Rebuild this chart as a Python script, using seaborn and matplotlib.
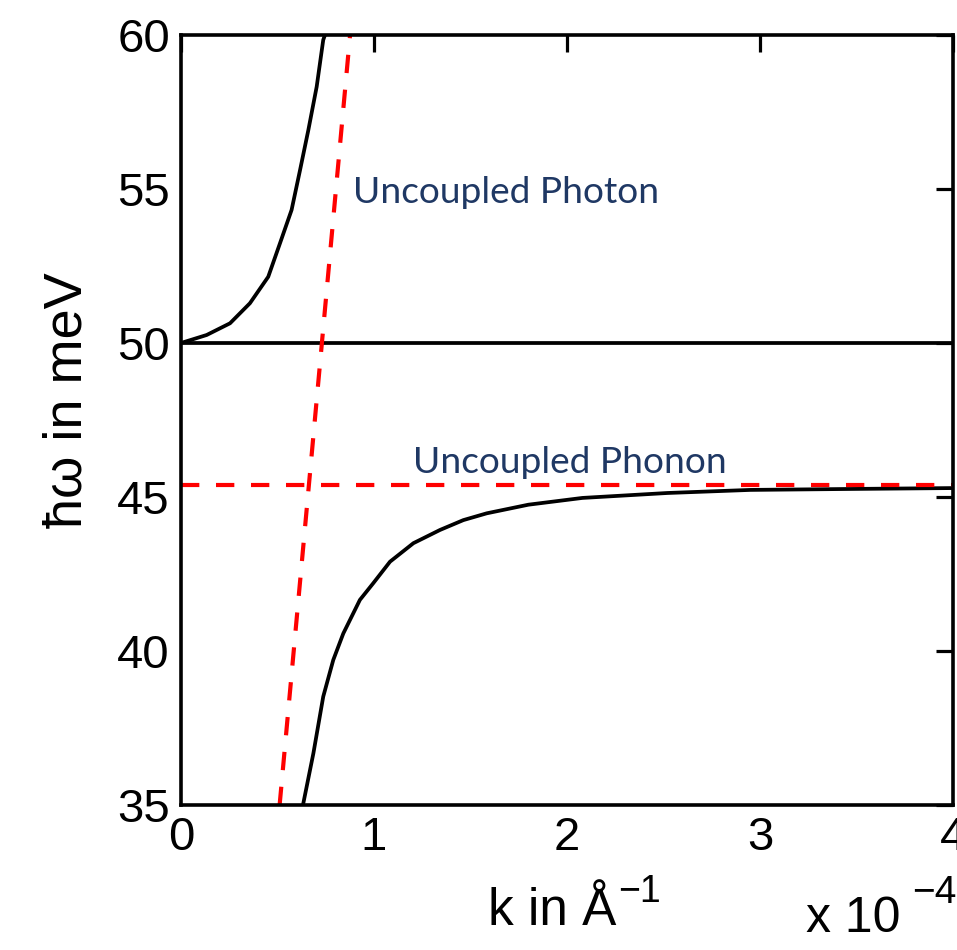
import numpy as np
import pandas as pd
import seaborn as sns
import matplotlib.pyplot as plt

# values (k in units of 1e-4 1/A, energy in meV)
k_upper = [0.0, 0.133, 0.254, 0.357, 0.452, 0.513, 0.573, 0.617, 0.660,
           0.703, 0.737, 0.746]
w_upper = [50.0, 50.26, 50.64, 51.29, 52.15, 53.24, 54.32, 55.62, 56.92,
           58.32, 59.84, 60.0]

k_lower = [0.632, 0.686, 0.737, 0.789, 0.841, 0.927, 0.996, 1.083, 1.204,
           1.342, 1.463, 1.584, 1.80, 2.08, 2.52, 2.95, 3.45, 4.0]
w_lower = [35.0, 36.68, 38.52, 39.71, 40.57, 41.66, 42.2, 42.9, 43.5,
           43.93, 44.25, 44.47, 44.75, 44.97, 45.13, 45.23, 45.26, 45.29]

k_flat = [0.0, 4.0]
w_flat = [50.0, 50.0]

k_photon = [0.511, 0.876]
w_photon = [35.0, 60.0]

k_phonon = [0.0, 4.0]
w_phonon = [45.4, 45.4]

xticks = [0, 1, 2, 3, 4]
yticks = [35, 40, 45, 50, 55, 60]

sns.set_theme(style="white")
plt.rcParams['font.family'] = ['Liberation Sans', 'DejaVu Sans']
plt.rcParams['text.color'] = 'black'

fig = plt.figure(figsize=(9.57, 9.5), dpi=100)
ax = fig.add_axes([181 / 957, 145 / 950, 772 / 957, 770 / 950])

dash = (0, (4.4, 4.0))
sns.lineplot(x=k_upper, y=w_upper, ax=ax, color='black', linewidth=2.7, sort=False)
sns.lineplot(x=k_lower, y=w_lower, ax=ax, color='black', linewidth=2.7, sort=False)
sns.lineplot(x=k_flat, y=w_flat, ax=ax, color='black', linewidth=2.7)
sns.lineplot(x=k_photon, y=w_photon, ax=ax, color='#ff0000', linewidth=3.0,
             linestyle=dash)
sns.lineplot(x=k_phonon, y=w_phonon, ax=ax, color='#ff0000', linewidth=3.0,
             linestyle=dash)

ax.set_xlim(0, 4)
ax.set_ylim(35, 60)
ax.set_xticks(xticks)
ax.set_yticks(yticks)
ax.set_xticklabels([str(t) for t in xticks])
ax.set_yticklabels([str(t) for t in yticks])
ax.tick_params(direction='in', length=12, width=2.3, top=True, right=True,
               labelsize=34, colors='black', pad=8)
for s in ax.spines.values():
    s.set_visible(True)
    s.set_color('black')
    s.set_linewidth(2.6)
ax.set_xlabel('')
ax.set_ylabel('')

def px(x, y):
    return x / 957, 1 - y / 950

# axis labels placed by hand (matlab style superscripts)
fig.text(*px(488, 925), 'k in Å', fontsize=37, ha='left', va='baseline', color='black')
fig.text(*px(618, 902), '\u22121', fontsize=27, ha='left', va='baseline', color='black')
fig.text(*px(67, 400), 'ħω in meV', fontsize=39, rotation=90,
         ha='center', va='center', color='black')
fig.text(*px(806, 932), 'x 10', fontsize=36, ha='left', va='baseline', color='black')
fig.text(*px(912, 903), '\u22124', fontsize=28, ha='left', va='baseline', color='black')

txt_col = '#1F3864'
ax.text(0.891, 54.55, 'Uncoupled Photon', fontsize=26.7, family='Lato',
        color=txt_col, va='baseline', ha='left')
ax.text(1.202, 45.78, 'Uncoupled Phonon', fontsize=26.7, family='Lato',
        color=txt_col, va='baseline', ha='left')

fig.savefig('out.png', dpi=100, facecolor='white')
